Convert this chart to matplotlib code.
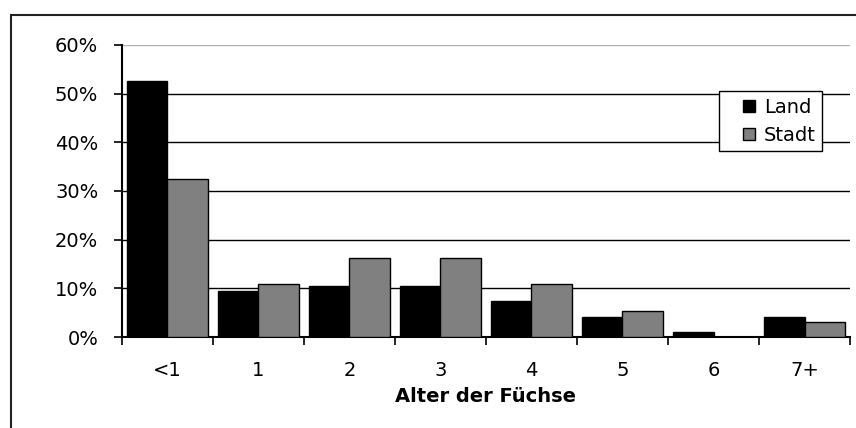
import numpy as np
import matplotlib.pyplot as plt
from matplotlib.patches import Rectangle
from matplotlib.container import BarContainer
from matplotlib.legend_handler import HandlerPatch, update_from_first_child

plt.rcParams['font.family'] = ['DejaVu Sans']

# Data (percent)
categories = ['<1', '1', '2', '3', '4', '5', '6', '7+']
land = [52.7, 9.5, 10.5, 10.5, 7.3, 4.1, 1.0, 4.1]
stadt = [32.4, 10.8, 16.3, 16.3, 10.8, 5.4, 0.0, 3.1]
yticks = [0, 10, 20, 30, 40, 50, 60]

fig = plt.figure(figsize=(8.56, 4.28), dpi=100)
ax = fig.add_axes([0.1425, 0.2126, 0.8505, 0.6823])

# outer frame of the chart area
fig.patches.append(Rectangle((10.5 / 856, -0.1), 1.2, 1 - 14.5 / 428 + 0.1,
                             transform=fig.transFigure, fill=False,
                             edgecolor='#222222', linewidth=1.5))

x = np.arange(len(categories))
w = 0.44
ax.bar(x - w / 2, land, w, color='black', edgecolor='black', linewidth=1,
       label='Land', zorder=3)
ax.bar(x + w / 2, stadt, w, color='#808080', edgecolor='black', linewidth=1,
       label='Stadt', zorder=3)

ax.set_xlim(-0.5, len(categories) - 0.5)
ax.set_ylim(0, 60)
ax.set_yticks(yticks)
ax.set_yticklabels([f'{v}%' for v in yticks], fontsize=14)
for v in yticks[1:-1]:
    ax.axhline(v, color='black', linewidth=1, zorder=1)
ax.axhline(60, color='#b0b0b0', linewidth=1, zorder=1)

ax.set_xticks(x)
ax.set_xticklabels(categories, fontsize=14)
ax.set_xticks(np.arange(len(categories) + 1) - 0.5, minor=True)
ax.tick_params(axis='x', which='major', length=0, pad=17)
ax.tick_params(axis='x', which='minor', length=6, width=1.2, direction='out')
ax.tick_params(axis='y', length=6, width=1.2, direction='out', pad=11)
ax.set_xlabel('Alter der Füchse', fontsize=14, fontweight='bold', labelpad=5)

for s in ['top', 'right']:
    ax.spines[s].set_visible(False)
ax.spines['left'].set_linewidth(1.5)
ax.spines['bottom'].set_linewidth(1.5)


# small square legend key, right-aligned inside a wider handle box
def square_key(legend, orig_handle, xdescent, ydescent, width, height, fontsize):
    s = 0.62 * fontsize
    return Rectangle((width - s - xdescent, (height - s) / 2 - ydescent), s, s)


leg = ax.legend(loc='upper left', bbox_to_anchor=(719 / 856, 1 - 91 / 428),
                bbox_transform=fig.transFigure, borderaxespad=0,
                fontsize=14, frameon=True, fancybox=False, edgecolor='black',
                handlelength=1.5, handleheight=0.75, handletextpad=0.45,
                borderpad=0.35, labelspacing=0.45, framealpha=1,
                handler_map={BarContainer: HandlerPatch(
                    patch_func=square_key,
                    update_func=update_from_first_child)})
leg.get_frame().set_linewidth(1)

fig.savefig('out.png', dpi=100)
